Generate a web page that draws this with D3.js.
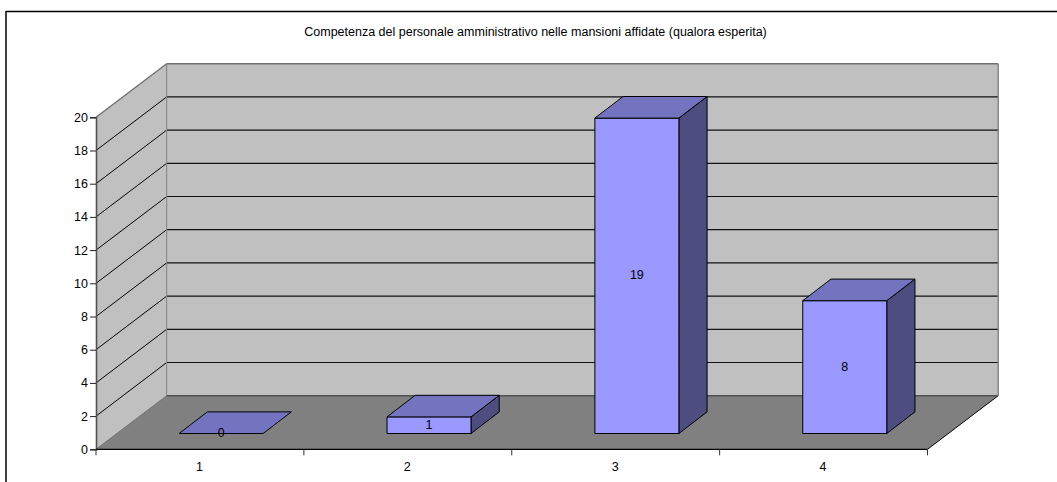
<!DOCTYPE html>
<html><head><meta charset="utf-8">
<script src="https://cdnjs.cloudflare.com/ajax/libs/d3/7.8.5/d3.min.js"></script>
<style>html,body{margin:0;padding:0;background:#fff;overflow:hidden}svg{display:block}text{font-family:"Liberation Sans",Arial,sans-serif;font-size:12.5px;fill:#000}</style>
</head><body><svg id="c" width="1057" height="482"></svg>
<script>
const chartTitle = "Competenza del personale amministrativo nelle mansioni affidate (qualora esperita)";
const categories = ["1","2","3","4"];
const values = [0,1,19,8];
const yTicks = [0,2,4,6,8,10,12,14,16,18,20];

const svg = d3.select("#c");
const x = d3.scaleBand().domain(categories).range([96,927.5]);
const y = d3.scaleLinear().domain([0,20]).range([449.3,117.3]);
const depth = [70.7,-53.6];
const barWidth = 84;
const barDepth = [28.2,-21.6];
const barBase = [21.2,-15.8];
const P = a => a.map(p=>p.join(",")).join(" ");
const poly = (pts,fill,stroke,sw)=>svg.append("polygon").attr("points",P(pts)).attr("fill",fill).attr("stroke",stroke||"none").attr("stroke-width",sw||0);
const line = (a,b,c,w)=>svg.append("line").attr("x1",a[0]).attr("y1",a[1]).attr("x2",b[0]).attr("y2",b[1]).attr("stroke",c).attr("stroke-width",w);

// frame: open on the right and bottom
line([6,11.5],[1057,11.5],"#000",1.5);
line([6,11],[6,482],"#000",1.5);

svg.append("text").attr("x",535.5).attr("y",35.5).attr("text-anchor","middle").text(chartTitle);

const x0=x.range()[0], x1=x.range()[1], y0=y(0), yT=y(20), dx=depth[0], dy=depth[1];
poly([[x0+dx,yT+dy],[x1+dx,yT+dy],[x1+dx,y0+dy],[x0+dx,y0+dy]],"#c0c0c0");
poly([[x0,yT],[x0+dx,yT+dy],[x0+dx,y0+dy],[x0,y0]],"#c0c0c0");
poly([[x0,y0],[x0+dx,y0+dy],[x1+dx,y0+dy],[x1,y0]],"#808080");
yTicks.slice(1,-1).forEach(t=>{
  line([x0,y(t)],[x0+dx,y(t)+dy],"#000",1);
  line([x0+dx,y(t)+dy],[x1+dx,y(t)+dy],"#111",1.2);
});
line([x0+dx,yT+dy],[x1+dx,yT+dy],"#707070",1.4);
line([x0,yT],[x0+dx,yT+dy],"#707070",1.4);
line([x0,y0],[x0+dx,y0+dy],"#707070",1);
line([x0+dx,yT+dy],[x0+dx,y0+dy],"#808080",1);
line([x1,y0],[x1+dx,y0+dy],"#000",1);
line([x0+dx,y0+dy],[x1+dx,y0+dy],"#505050",1.4);
line([x1+dx,yT+dy],[x1+dx,y0+dy],"#808080",1.4);

categories.forEach((c,i)=>{
  const v=values[i];
  const L=x(c)+x.bandwidth()/2-barWidth/2+barBase[0], R=L+barWidth;
  const B=y0+barBase[1], T=y(v)+barBase[1];
  const [bx,by]=barDepth;
  if(v>0){
    poly([[R,B],[R+bx,B+by],[R+bx,T+by],[R,T]],"#4d4d80","#000",1);
    poly([[L,B],[R,B],[R,T],[L,T]],"#9999ff","#000",1);
  }
  poly([[L,T],[R,T],[R+bx,T+by],[L+bx,T+by]],"#7373bf","#000",1);
  svg.append("text").attr("x",(L+R)/2).attr("y",(T+B)/2+3.4).attr("text-anchor","middle").text(v);
});

const yAxis = svg.append("g").attr("transform",`translate(${x0},0)`).call(d3.axisLeft(y).tickValues(yTicks).tickSize(6).tickPadding(2));
yAxis.select(".domain").attr("stroke","#505050").attr("stroke-width",1.6);
yAxis.selectAll(".tick line").attr("stroke","#222");
yAxis.selectAll("text").style("font-size","12.5px").attr("fill","#000");
const xEdge = d3.scaleLinear().domain([0,categories.length]).range([x0,x1]);
const xg = svg.append("g").attr("transform",`translate(0,${y0})`);
xg.append("line").attr("x1",x0).attr("x2",x1).attr("stroke","#000").attr("stroke-width",1.2);
d3.range(categories.length+1).forEach(i=>xg.append("line").attr("x1",xEdge(i)).attr("x2",xEdge(i)).attr("y1",0).attr("y2",6).attr("stroke","#333"));
categories.forEach(c=>xg.append("text").attr("x",x(c)+x.bandwidth()/2-0.5).attr("y",21.3).attr("text-anchor","middle").text(c));
</script></body></html>
